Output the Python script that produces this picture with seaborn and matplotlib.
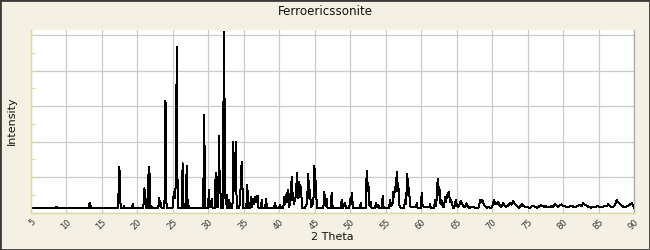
import numpy as np
import pandas as pd
import matplotlib
matplotlib.use("Agg")
import matplotlib.pyplot as plt
from matplotlib.ticker import MultipleLocator, AutoMinorLocator, NullFormatter
from matplotlib.patches import Rectangle
import seaborn as sns

# ---------------- data (2-theta, intensity) ----------------
tt_a = [5.0, 8.5, 8.65, 8.8, 13.15, 13.3, 13.4, 13.5, 17.3, 17.45, 17.55, 17.65,
        18.05, 18.13, 18.22, 19.25, 19.35, 19.45, 20.85, 20.99, 21.1, 21.25,
        21.48, 21.6, 21.7, 21.85, 21.98, 22.08, 22.95, 23.1, 23.2, 23.3, 23.42,
        23.82, 23.97, 24.12]
in_a = [2.5, 2.5, 3.4, 2.5, 2.5, 5.6, 4.0, 2.5, 2.5, 25.9, 21.0, 2.5,
        2.5, 3.8, 2.5, 2.5, 4.9, 2.5, 2.5, 13.7, 11.0, 2.5,
        2.5, 25.9, 25.0, 2.5, 3.5, 2.5, 2.5, 8.1, 4.0, 5.5, 2.5,
        2.5, 62.9, 2.5]

tt_b = [24.95, 25.1, 25.2, 25.32, 25.45, 25.55, 25.65, 25.8,
        26.25, 26.39, 26.52, 26.82, 26.96, 27.1, 27.25, 27.35,
        29.28, 29.42, 29.56]
in_b = [2.5, 9.0, 11.8, 8.0, 20.0, 93.5, 20.0, 2.5,
        2.5, 27.8, 2.5, 2.5, 26.5, 2.5, 4.0, 2.5,
        2.5, 55.0, 2.5]

tt_c = [29.95, 30.10, 30.22, 30.36, 30.48, 30.60, 30.90, 31.04, 31.15,
        31.38, 31.51, 31.62, 31.72, 31.85, 32.08, 32.18, 32.24, 32.34,
        32.46, 32.59, 32.70, 32.85, 32.96, 33.08, 33.40, 33.52, 33.66,
        33.76, 33.86, 34.00, 34.30, 34.45, 34.70, 34.82, 34.95, 35.35,
        35.49, 35.62, 35.88, 36.01, 36.12, 36.30, 36.42, 36.55, 36.68,
        36.82, 36.96, 37.08, 37.42, 37.52, 37.62, 38.00, 38.13, 38.28]
in_c = [2.5, 12.8, 3.0, 3.0, 7.7, 2.5, 2.5, 22.5, 3.0,
        3.0, 43.0, 12.0, 10.9, 2.5, 2.5, 101.6, 100.5, 15.0,
        5.0, 10.0, 2.5, 2.5, 7.0, 2.5, 2.5, 40.0, 12.0,
        20.0, 40.0, 2.5, 2.5, 5.0, 28.7, 13.0, 2.5, 2.5,
        15.6, 2.5, 2.5, 9.0, 3.0, 8.0, 5.0, 9.0, 6.0,
        9.0, 9.4, 2.5, 2.5, 7.0, 2.5, 2.5, 7.7, 2.5]

tt_d = [39.25, 39.39, 39.52, 39.98, 40.10, 40.22, 40.55, 40.70, 40.85,
        41.04, 41.15, 41.27, 41.40, 41.62, 41.75, 41.88, 42.07, 42.35,
        42.49, 42.62, 42.82, 42.94, 43.06, 43.20, 43.52, 43.90, 44.08,
        44.20, 44.32, 44.45, 44.80, 44.93, 45.13, 45.30, 45.73, 46.20,
        46.34, 46.50, 46.68, 46.80, 47.25, 47.38, 47.52, 48.08, 48.65,
        48.79, 48.92, 49.25, 49.40, 49.85, 49.96, 50.08, 50.20, 50.40]
in_d = [2.5, 5.5, 2.5, 2.5, 4.3, 2.5, 2.5, 9.0, 5.0,
        10.9, 6.0, 12.8, 3.0, 8.0, 20.3, 10.0, 5.0, 10.0,
        22.2, 8.0, 17.5, 9.0, 14.6, 2.5, 2.5, 5.0, 21.8,
        8.0, 12.8, 3.0, 6.0, 26.3, 16.7, 2.5, 2.5, 2.5,
        11.8, 4.0, 8.0, 2.5, 2.5, 11.3, 2.5, 2.5, 2.5,
        7.0, 2.5, 5.5, 2.5, 2.5, 7.7, 5.0, 10.9, 2.5]

tt_e = [51.35, 51.46, 51.58, 52.18, 52.31, 52.42, 52.54, 52.70, 52.87,
        53.00, 53.50, 53.62, 53.75, 53.94, 54.06, 54.45, 54.56, 54.70,
        55.45, 55.59, 55.75, 55.94, 56.06, 56.18, 56.30, 56.42, 56.54,
        56.66, 56.76, 56.88, 56.99, 57.58, 57.70, 57.85, 58.03, 58.15,
        58.27, 58.42, 58.55, 59.22, 59.35, 59.48, 59.92, 60.06, 60.18,
        60.40, 61.10, 61.23, 61.36, 61.80, 61.94, 62.10, 62.31, 62.42,
        62.54, 62.70, 62.85, 63.05, 63.20, 63.34, 63.46, 63.58, 63.90,
        64.02, 64.18, 64.51, 64.70, 64.85, 65.02, 65.21, 65.59, 65.92]
in_e = [2.5, 5.3, 2.5, 2.5, 23.7, 12.0, 16.6, 4.0, 6.2,
        2.5, 2.5, 5.6, 3.0, 4.3, 2.5, 2.5, 9.4, 2.5,
        2.5, 7.0, 4.0, 5.0, 11.8, 9.0, 14.6, 12.0, 23.1,
        12.0, 16.6, 5.0, 3.0, 2.5, 7.0, 5.0, 21.8, 10.0,
        13.7, 4.0, 3.0, 3.0, 5.3, 2.5, 2.5, 10.9, 4.0,
        3.0, 3.0, 4.7, 2.5, 2.5, 7.0, 4.0, 18.8, 10.0,
        14.6, 5.0, 7.0, 3.0, 3.0, 9.0, 6.0, 9.0, 11.8,
        6.0, 7.0, 2.5, 4.0, 7.0, 4.0, 3.4, 6.6, 3.4]

tt_f = [66.20, 66.39, 66.55, 66.72, 67.05, 67.32, 67.55, 67.80, 68.10, 68.27, 68.45, 68.59,
        68.87, 69.21, 69.45, 69.68, 69.95, 70.24, 70.40, 70.52, 70.85, 71.05, 71.23, 71.55,
        71.75, 71.93, 72.20, 72.49, 72.70, 72.96, 73.15, 73.34, 73.55, 73.77, 74.00, 74.23,
        74.40, 74.61, 75.00, 75.31, 75.55, 75.78, 76.00, 76.26, 76.60, 76.90, 77.10, 77.28,
        77.45, 77.66, 78.00, 78.20, 78.37, 78.60, 78.83, 79.05, 79.30, 79.55, 79.77, 80.00,
        80.24, 80.45, 80.70, 80.95, 81.18, 81.50, 81.79, 82.05, 82.35, 82.60, 82.82, 83.05,
        83.30, 83.55, 83.86, 84.15, 84.46, 84.75, 85.07, 85.30, 85.50, 85.70, 85.87, 86.10,
        86.34, 86.55, 86.82, 87.00, 87.20, 87.40, 87.52, 87.70, 87.85, 88.05, 88.23, 88.45,
        88.70, 88.90, 89.15, 89.40, 89.63, 89.80, 90.00]
in_f = [3.5, 5.3, 3.8, 2.8, 3.0, 3.4, 2.6, 2.8, 3.0, 7.0, 5.8, 7.0,
        4.3, 2.8, 3.4, 2.5, 3.0, 7.0, 5.2, 4.7, 5.9, 4.0, 3.4, 5.3,
        3.8, 3.4, 4.0, 5.3, 4.6, 6.6, 5.0, 4.3, 3.6, 2.8, 3.8, 4.7,
        3.6, 3.4, 3.0, 2.8, 3.6, 4.0, 3.2, 2.8, 3.5, 4.3, 3.6, 3.4,
        3.9, 3.0, 3.5, 3.0, 4.0, 3.4, 4.7, 3.9, 3.4, 4.2, 4.7, 3.6,
        3.8, 3.2, 3.0, 3.6, 4.0, 3.2, 3.4, 4.0, 4.3, 3.7, 5.3, 4.4,
        4.0, 3.3, 2.8, 3.2, 3.0, 3.6, 3.4, 3.1, 3.0, 3.6, 4.0, 3.6,
        4.7, 3.8, 3.0, 3.4, 4.0, 5.6, 7.0, 6.0, 5.3, 4.6, 4.0, 3.4,
        3.0, 3.6, 4.0, 4.6, 5.3, 4.0, 2.8]

x_ticks = [5, 10, 15, 20, 25, 30, 35, 40, 45, 50, 55, 60, 65, 70, 75, 80, 85, 90]
title = "Ferroericssonite"
x_label = "2 Theta"
y_label = "Intensity"

df = pd.DataFrame({
    "two_theta": tt_a + tt_b + tt_c + tt_d + tt_e + tt_f,
    "intensity": in_a + in_b + in_c + in_d + in_e + in_f,
})

# ---------------- style ----------------
sns.set_style("white")
plt.rcParams["font.family"] = ["DejaVu Sans"]

BG = "#F4F1E4"
AXIS_Y = "#DCD79C"
GRID = "#C9C9C9"

W, H = 650, 250
fig = plt.figure(figsize=(6.5, 2.5), dpi=100, facecolor=BG)
L, R, T, B = 30.8, 634.3, 30.0, 212.7
ax = fig.add_axes([L / W, 1 - B / H, (R - L) / W, (B - T) / H])
ax.set_facecolor("white")

sns.lineplot(data=df, x="two_theta", y="intensity", sort=False, estimator=None,
             color="black", linewidth=0.72, antialiased=False, ax=ax)

ax.set_xlim(5, 90)
ax.set_ylim(0, 102.9)
ax.set_xticks(x_ticks)
ax.set_xticklabels([str(t) for t in x_ticks], rotation=45, ha="right", va="top",
                   rotation_mode="anchor", fontsize=6, color="#333333")
ax.xaxis.set_minor_locator(AutoMinorLocator(6))
ax.yaxis.set_major_locator(MultipleLocator(20))
ax.yaxis.set_minor_locator(MultipleLocator(10))
ax.yaxis.set_major_formatter(NullFormatter())

ax.tick_params(axis="x", which="both", direction="out", color=AXIS_Y, width=0.8, pad=0.5)
ax.tick_params(axis="x", which="major", length=3)
ax.tick_params(axis="x", which="minor", length=3)
ax.tick_params(axis="y", which="both", direction="in", color=AXIS_Y, width=0.8, length=3,
               left=True)

ax.grid(True, which="major", color=GRID, linewidth=0.9)
ax.set_axisbelow(True)

for side in ["left", "bottom"]:
    ax.spines[side].set_color(AXIS_Y)
    ax.spines[side].set_linewidth(1.0)
ax.spines["right"].set_color("#A8A8A8")
ax.spines["right"].set_linewidth(0.9)
ax.spines["top"].set_visible(False)

ax.set_xlabel("")
ax.set_ylabel("")

fig.text(0.5, 1 - 11.5 / H, title, ha="center", va="center", fontsize=8.6, color="#111111")
fig.text(332 / W, 1 - 237 / H, x_label, ha="center", va="center", fontsize=8, color="#111111")
fig.text(11.7 / W, 1 - 121 / H, y_label, ha="center", va="center", rotation=90,
         fontsize=8, color="#111111")

fig.patches.append(Rectangle((0, 0), 1, 1, transform=fig.transFigure, fill=False,
                             edgecolor="#3A3A3A", linewidth=2.0, zorder=10))

fig.savefig("out.png", dpi=100, facecolor=BG)
